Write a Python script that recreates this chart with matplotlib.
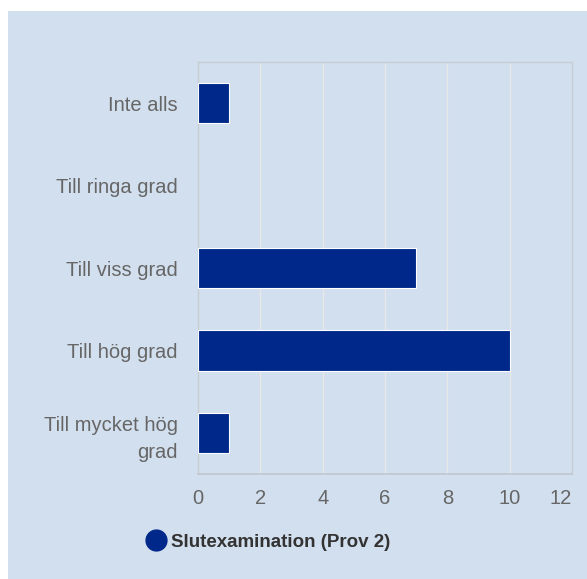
import matplotlib.pyplot as plt
from matplotlib.patches import Rectangle
from matplotlib.lines import Line2D

plt.rcParams['font.family'] = ['Liberation Sans', 'DejaVu Sans']

categories = ["Inte alls", "Till ringa grad", "Till viss grad", "Till hög grad",
              "Till mycket hög\ngrad"]
values = [1, 0, 7, 10, 1]
series_name = "Slutexamination (Prov 2)"
x_ticks = [0, 2, 4, 6, 8, 10, 12]

BG = "#D2DFEE"
BAR = "#00288A"

fig = plt.figure(figsize=(5.87, 5.79), dpi=100)
fig.patch.set_facecolor("white")
bg = Rectangle((8 / 587, 0), 1 - 8 / 587, 1 - 11 / 579,
               transform=fig.transFigure, facecolor=BG, edgecolor="none", zorder=-10)
fig.add_artist(bg)

ax = fig.add_axes([198 / 587, 1 - 474 / 579, 374 / 587, 412 / 579])
ax.set_facecolor(BG)

y = list(range(len(categories)))
edge_w = [0.8 if v > 0 else 0 for v in values]
ax.barh(y, values, height=0.49, color=BAR, edgecolor="white", linewidth=edge_w, zorder=3)

ax.set_xlim(0, 12)
ax.set_ylim(len(categories) - 0.5, -0.5)
ax.set_xticks(x_ticks)
ax.set_xticklabels([str(t) for t in x_ticks])
ax.set_yticks(y)
ax.set_yticklabels(categories, linespacing=1.55)
ax.tick_params(axis="both", length=0, labelsize=14.5, labelcolor="#666666")
ax.tick_params(axis="y", pad=14.5)
ax.tick_params(axis="x", pad=11)
ax.get_xticklabels()[-1].set_horizontalalignment("right")

ax.grid(axis="x", color="#E8E8E8", linewidth=1, zorder=1)
for side in ["top", "right", "left"]:
    ax.spines[side].set_color("#C5CCD4")
    ax.spines[side].set_linewidth(1)
ax.spines["bottom"].set_color("#C0C6CE")
ax.spines["bottom"].set_linewidth(1.2)

handle = Line2D([], [], marker="o", linestyle="none", markersize=15,
                markerfacecolor=BAR, markeredgecolor=BAR)
fig.legend([handle], [series_name], loc="center", bbox_to_anchor=(268 / 587, 1 - 542 / 579),
           frameon=False, handletextpad=0.3, handlelength=1.0,
           prop={"weight": "bold", "size": 13.5}, labelcolor="#333333")

fig.savefig("out.png", dpi=100, facecolor=fig.get_facecolor())
